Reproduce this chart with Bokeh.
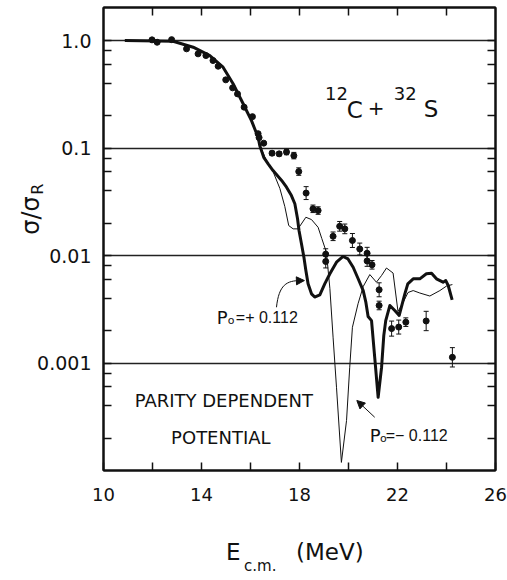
import numpy as np
from bokeh.plotting import figure
from bokeh.models import (ColumnDataSource, FixedTicker, LogAxis, LinearAxis, Label,
                          Arrow, NormalHead, Whisker, TeeHead)
from bokeh.embed import file_html
from bokeh.resources import INLINE

# ---------------- data ----------------
# measured sigma/sigma_R for 12C + 32S
e_data = [11.98, 12.19, 12.78, 13.39, 13.86, 14.18, 14.47, 14.68, 14.99, 15.27,
          15.47, 15.74, 16.08, 16.31, 16.35, 16.54, 16.88, 17.17, 17.47, 17.77,
          17.97, 18.27, 18.55, 18.76, 19.07, 19.07, 19.37, 19.64, 19.85, 20.16,
          20.46, 20.76, 20.76, 20.96, 21.25, 21.25, 21.76, 22.05, 22.34, 23.17,
          24.24]
ratio_data = [1.015, 0.964, 1.02, 0.837, 0.752, 0.725, 0.652, 0.577, 0.431, 0.363,
              0.319, 0.24, 0.196, 0.136, 0.125, 0.111, 0.0895, 0.0883, 0.0918, 0.085,
              0.0604, 0.0381, 0.0272, 0.0262, 0.0103, 0.0088, 0.0151, 0.0187, 0.0177, 0.0138,
              0.0115, 0.0105, 0.0089, 0.0082, 0.0048, 0.00343, 0.00209, 0.00216, 0.0024, 0.00246,
              0.00113]
# error half-length in decades
err_decades = [0.01] * 16 + [0.02, 0.02, 0.025, 0.03, 0.035, 0.06, 0.035, 0.035, 0.05, 0.06,
                             0.04, 0.045, 0.045, 0.065, 0.055, 0.055, 0.05, 0.04, 0.065, 0.04,
                             0.07, 0.065, 0.04, 0.09, 0.09]

# calculation, P0 = +0.112 (thick)
e_plus = [10.87, 12.84, 13.66, 14.34, 14.88, 15.29, 15.70, 16.04, 16.31, 16.38,
          16.54, 16.72, 16.92, 17.27, 17.47, 17.67, 17.81, 17.92, 17.98, 18.08,
          18.18, 18.26, 18.35, 18.49, 18.62, 18.83, 19.03, 19.24, 19.51, 19.78,
          19.98, 20.19, 20.39, 20.60, 20.71, 20.80, 20.94, 21.07, 21.21, 21.35,
          21.44, 21.52, 21.69, 21.89, 22.07, 22.30, 22.42, 22.64, 22.91, 23.18,
          23.39, 23.59, 23.86, 23.97, 24.07, 24.23]
ratio_plus = [1.0, 0.985, 0.867, 0.725, 0.565, 0.396, 0.258, 0.180, 0.126, 0.105,
              0.082, 0.0713, 0.0617, 0.0499, 0.0432, 0.0361, 0.0303, 0.022, 0.0171, 0.01285,
              0.00964, 0.00725, 0.00545, 0.0044, 0.00411, 0.0043, 0.00545, 0.00676, 0.00867, 0.0098,
              0.0093, 0.00778, 0.00611, 0.00472, 0.00366, 0.00271, 0.00248, 0.00113, 0.00048, 0.000914,
              0.0018, 0.00248, 0.00343, 0.00308, 0.00277, 0.0044, 0.00545, 0.00607, 0.00607, 0.00676,
              0.00684, 0.00607, 0.00565, 0.00585, 0.00526, 0.00387]

# calculation, P0 = -0.112 (thin)
e_minus = [10.87, 12.84, 13.66, 14.34, 14.88, 15.29, 15.70, 16.04, 16.31, 16.40,
           16.65, 16.87, 17.20, 17.40, 17.56, 17.74, 17.94, 18.26, 18.49, 18.76,
           18.91, 19.10, 19.24, 19.37, 19.51, 19.71, 19.92, 20.05, 20.16, 20.39,
           20.60, 20.87, 21.14, 21.35, 21.55, 21.82, 22.02, 22.23, 22.43, 22.64,
           22.91, 23.32, 23.73, 24.00, 24.24]
ratio_minus = [1.0, 0.985, 0.867, 0.725, 0.565, 0.396, 0.258, 0.180, 0.126, 0.103,
               0.0765, 0.0645, 0.042, 0.0286, 0.019, 0.0177, 0.0177, 0.0227, 0.0216, 0.0183,
               0.0144, 0.0107, 0.00493, 0.00174, 0.000595, 0.000119, 0.000292, 0.000913, 0.00215, 0.00356,
               0.00515, 0.00665, 0.00565, 0.00652, 0.00765, 0.00687, 0.00301, 0.00366, 0.00453, 0.00472,
               0.00448, 0.0042, 0.00472, 0.0052, 0.00537]

x_major = [10, 14, 18, 22, 26]
x_minor = [12, 16, 20, 24]
x_top = [12, 14, 16, 18, 20, 22, 24]
y_major = [0.001, 0.01, 0.1, 1.0]
y_labels = ["0.001", "0.01", "0.1", "1.0"]
y_minor_mult = [2, 4, 6, 8]
y_minor_decades = [-4, -3, -2, -1]

# axis title pieces, anchored at axis coordinates
x_title_pos = [15.30, 19.24]
x_title_text = ["E", "(MeV)"]
x_sub_pos = [16.40]
x_sub_text = ["c.m."]
y_title_pos = [0.0236]
y_title_text = ["\u03c3/\u03c3"]
y_sub_pos = [0.0415]
y_sub_text = ["R"]

FONT = "DejaVu Sans"
INK = "#111111"

# ---------------- figure ----------------
p = figure(width=507, height=580, x_range=(10, 26), y_range=(1e-4, 2.03),
           y_axis_type="log", output_backend="svg", toolbar_location=None,
           min_border_left=103, min_border_right=12, min_border_top=7,
           min_border_bottom=110, background_fill_color="white",
           border_fill_color="white")
p.outline_line_color = INK
p.outline_line_width = 2

y_minor = [m * 10.0 ** d for d in y_minor_decades for m in y_minor_mult]

p.xgrid.visible = False
p.ygrid.ticker = FixedTicker(ticks=y_major)
p.ygrid.grid_line_color = "#222222"
p.ygrid.grid_line_width = 1.3


def style_axis(ax):
    ax.axis_line_color = INK
    ax.axis_line_width = 2
    ax.major_tick_line_color = INK
    ax.minor_tick_line_color = INK
    ax.major_tick_line_width = 1.5
    ax.minor_tick_line_width = 1.5
    ax.major_tick_in = 8
    ax.major_tick_out = 0
    ax.minor_tick_in = 8
    ax.minor_tick_out = 0
    ax.major_label_text_font = FONT
    ax.major_label_text_color = INK


xa = p.xaxis[0]
style_axis(xa)
xa.ticker = FixedTicker(ticks=x_major, minor_ticks=x_minor)
xa.major_label_text_font_size = "18px"
xa.major_label_standoff = 17

ya = p.yaxis[0]
style_axis(ya)
ya.ticker = FixedTicker(ticks=y_major, minor_ticks=y_minor)
ya.major_label_overrides = dict(zip(y_major, y_labels))
ya.major_label_text_font_size = "19px"
ya.major_label_standoff = 12

# frame axes on top and right: ticks only, labels not drawn
top = LinearAxis(ticker=FixedTicker(ticks=x_top))
style_axis(top)
top.major_label_text_font_size = "1px"
top.major_label_text_color = None
top.major_label_standoff = 0
p.add_layout(top, "above")

right = LogAxis(ticker=FixedTicker(ticks=y_major, minor_ticks=y_minor))
style_axis(right)
right.major_label_text_font_size = "1px"
right.major_label_text_color = None
right.major_label_standoff = 0
p.add_layout(right, "right")


# axis titles drawn as labels of tick-less extra axes
def text_axis(cls, ticks, texts, size, standoff, orientation="horizontal"):
    ax = cls(ticker=FixedTicker(ticks=ticks, minor_ticks=[]),
             major_label_overrides=dict(zip(ticks, texts)))
    ax.axis_line_color = None
    ax.major_tick_line_color = None
    ax.minor_tick_line_color = None
    ax.major_tick_in = 0
    ax.major_tick_out = 0
    ax.minor_tick_in = 0
    ax.minor_tick_out = 0
    ax.major_label_text_font = FONT
    ax.major_label_text_font_size = f"{size}px"
    ax.major_label_text_color = INK
    ax.major_label_standoff = standoff
    ax.major_label_orientation = orientation
    return ax


p.add_layout(text_axis(LinearAxis, x_title_pos, x_title_text, 23, 35), "below")
p.add_layout(text_axis(LinearAxis, x_sub_pos, x_sub_text, 15, -11), "below")
p.add_layout(text_axis(LogAxis, y_sub_pos, y_sub_text, 16, -13, "parallel"), "left")
p.add_layout(text_axis(LogAxis, y_title_pos, y_title_text, 24, -20, "parallel"), "left")

# ---------------- curves ----------------
p.line(e_minus, ratio_minus, line_width=1, color=INK)
p.line(e_plus, ratio_plus, line_width=3, color=INK, line_join="round")

# ---------------- data points ----------------
yd = np.array(ratio_data)
ed = np.array(err_decades)
src = ColumnDataSource(dict(x=e_data, y=ratio_data,
                            lo=yd * 10.0 ** (-ed), hi=yd * 10.0 ** ed))
p.add_layout(Whisker(source=src, base="x", lower="lo", upper="hi",
                     line_color=INK, line_width=1,
                     lower_head=TeeHead(size=5, line_color=INK, line_width=1),
                     upper_head=TeeHead(size=5, line_color=INK, line_width=1)))
p.scatter("x", "y", source=src, size=6, color=INK)


# ---------------- texts inside the frame ----------------
def lab(x, y, text, size, align="left", baseline="alphabetic", font=FONT):
    p.add_layout(Label(x=x, y=y, text=text, text_font=font,
                       text_font_size=f"{size}px", text_align=align,
                       text_baseline=baseline, text_color=INK))


# 12C + 32S
lab(19.04, 0.321, "12", 18)
lab(19.93, 0.2236, "C", 23)
lab(20.79, 0.238, "+", 20)
lab(21.85, 0.321, "32", 18)
lab(23.07, 0.233, "S", 23)

# P0 = +0.112
lab(14.62, 0.00267, "P", 18)
lab(15.07, 0.00248, "o", 11)
lab(15.40, 0.00267, "=+ 0.112", 16, font="Liberation Sans")
p.bezier(x0=[17.06], y0=[0.0033], x1=[18.05], y1=[0.00585],
         cx0=[17.16], cy0=[0.00537], cx1=[17.48], cy1=[0.00585],
         line_width=1, line_color=INK)
p.add_layout(Arrow(x_start=17.9, y_start=0.00582, x_end=18.2, y_end=0.00585,
                   line_width=1, line_color=INK,
                   end=NormalHead(size=8, fill_color=INK, line_color=INK)))

# P0 = -0.112
lab(20.87, 0.000212, "P", 18)
lab(21.29, 0.000199, "o", 11)
lab(21.52, 0.000212, "=\u2212 0.112", 16, font="Liberation Sans")
p.add_layout(Arrow(x_start=21.07, y_start=0.000313, x_end=20.34, y_end=0.000448,
                   line_width=1, line_color=INK,
                   end=NormalHead(size=8, fill_color=INK, line_color=INK)))

# parity dependent potential
lab(14.91, 0.000448, "PARITY DEPENDENT", 18, align="center")
lab(14.79, 0.000203, "POTENTIAL", 18, align="center")

open("out.html", "w").write(file_html(p, INLINE))
